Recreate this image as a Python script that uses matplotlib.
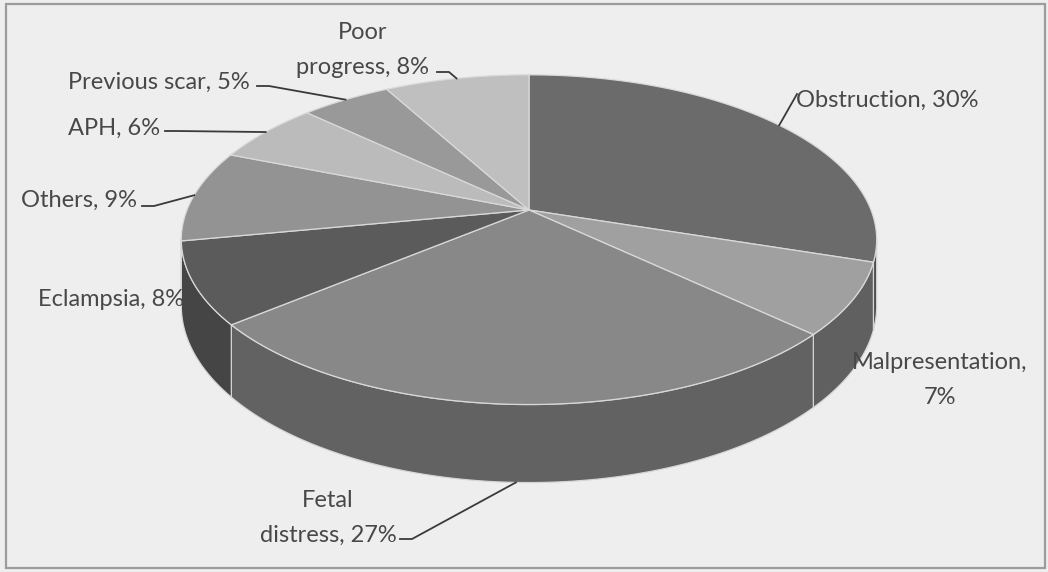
import numpy as np
import matplotlib.pyplot as plt
from matplotlib.patches import Polygon, Rectangle

# caesarean indications, clockwise from 12 o'clock
causes = ["Obstruction", "Malpresentation", "Fetal distress", "Eclampsia",
          "Others", "APH", "Previous scar", "Poor progress"]
shares = [30, 7, 27, 8, 9, 6, 5, 8]
label_texts = ["Obstruction, 30%", "Malpresentation,\n7%", "Fetal\ndistress, 27%",
               "Eclampsia, 8%", "Others, 9%", "APH, 6%", "Previous scar, 5%",
               "Poor\nprogress, 8%"]

top_colors = ["#6b6b6b", "#a0a0a0", "#888888", "#5b5b5b",
              "#939393", "#bbbbbb", "#999999", "#bfbfbf"]
side_colors = ["#4e4e4e", "#606060", "#626262", "#454545",
               "#676767", "#888888", "#707070", "#8a8a8a"]

# pie geometry in pixels (y grows downward)
CX, CY = 529, 210
RX, RY = 342, 159.5
PERSP = 0.18
DEPTH = 64


def project(theta, drop=0.0):
    u, v = np.cos(theta), np.sin(theta)
    w = 1 + PERSP * v
    return CX + RX * u / w, CY - RY * v / w + drop / w


fig = plt.figure(figsize=(10.48, 5.72), dpi=100, facecolor="#eeeeee")
ax = fig.add_axes([0, 0, 1, 1])
ax.set_xlim(0, 1048)
ax.set_ylim(572, 0)
ax.axis("off")
ax.add_patch(Rectangle((6, 4), 1039, 564, fill=False, ec="#9c9c9c", lw=1.6))

total = sum(shares)
ends = 90 - np.cumsum(shares) / total * 360
starts = np.concatenate([[90], ends[:-1]])

# side walls first (only the part facing the viewer)
for a0, a1, col in zip(starts, ends, side_colors):
    th = np.radians(np.linspace(a0, a1, 300))
    th = th[np.sin(th) < -PERSP + 0.01]
    if len(th) < 2:
        continue
    xt, yt = project(th)
    xb, yb = project(th, DEPTH)
    pts = np.column_stack([np.concatenate([xt, xb[::-1]]),
                           np.concatenate([yt, yb[::-1]])])
    ax.add_patch(Polygon(pts, closed=True, fc=col, ec="#d6d6d6", lw=0.9))

# top faces
for a0, a1, col in zip(starts, ends, top_colors):
    th = np.radians(np.linspace(a0, a1, 300))
    xt, yt = project(th)
    pts = np.column_stack([np.concatenate([[CX], xt]), np.concatenate([[CY], yt])])
    ax.add_patch(Polygon(pts, closed=True, fc=col, ec="#d9d9d9", lw=0.9))

font = dict(family=["Lato", "DejaVu Sans"], fontsize=17, color="#484848",
            linespacing=1.8)

# label position, alignment, and leader line start (None = no leader)
label_pos = [(796, 100, "left", (797, 94)),
             (940, 380, "center", None),
             (328, 518, "center", (400, 539)),
             (184, 300, "right", None),
             (137, 200, "right", (142, 206)),
             (160, 128, "right", (165, 131)),
             (250, 82, "right", (257, 86)),
             (363, 50, "center", (437, 72))]

for i, (tx, ty, ha, lead) in enumerate(label_pos):
    ax.text(tx, ty, label_texts[i], ha=ha, va="center", multialignment="center", **font)
    if lead is None:
        continue
    mid = np.radians((starts[i] + ends[i]) / 2)
    drop = DEPTH if np.sin(mid) < -PERSP else 0.0
    ex, ey = project(mid, drop)
    lx, ly = lead
    if i == 0:
        ax.plot([lx, ex], [ly, ey], color="#3a3a3a", lw=1.3)
    else:
        ax.plot([lx, lx + 12, ex], [ly, ly, ey], color="#3a3a3a", lw=1.3)

fig.savefig("out.png", dpi=100, facecolor=fig.get_facecolor())
